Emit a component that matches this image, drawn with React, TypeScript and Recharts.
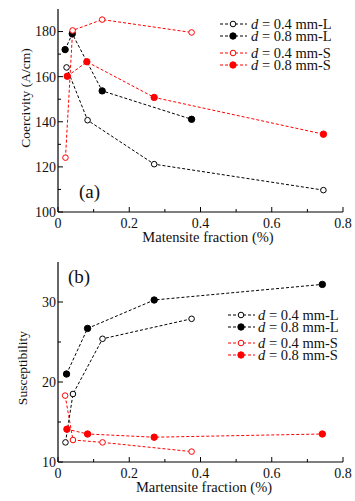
import { LineChart, Line, XAxis, YAxis, Legend } from "recharts";

// martensite fraction (%) for each series
const coerX04L = [0.024, 0.083, 0.27, 0.745];
const coerX08L = [0.02, 0.04, 0.124, 0.375];
const coerX04S = [0.021, 0.041, 0.124, 0.375];
const coerX08S = [0.026, 0.081, 0.27, 0.745];

const coer04L = [164.1, 140.7, 121.2, 109.7];
const coer08L = [172, 179, 153.7, 141.1];
const coer04S = [124.1, 180.5, 185.3, 179.6];
const coer08S = [160.2, 166.6, 150.8, 134.5];

const susX04L = [0.021, 0.042, 0.125, 0.375];
const susX08L = [0.024, 0.083, 0.27, 0.742];
const susX04S = [0.02, 0.042, 0.125, 0.375];
const susX08S = [0.025, 0.083, 0.27, 0.742];

const sus04L = [12.45, 18.5, 25.4, 27.9];
const sus08L = [21, 26.7, 30.25, 32.2];
const sus04S = [18.3, 12.75, 12.45, 11.3];
const sus08S = [14.1, 13.5, 13.1, 13.5];

const seriesNames = ["0.4 mm-L", "0.8 mm-L", "0.4 mm-S", "0.8 mm-S"];

const xTicks = [0, 0.1, 0.2, 0.3, 0.4, 0.5, 0.6, 0.7, 0.8];
const xLabels = [0, 0.2, 0.4, 0.6, 0.8];
const coerTicks = [100, 110, 120, 130, 140, 150, 160, 170, 180];
const coerLabels = [100, 120, 140, 160, 180];
const susTicks = [10, 15, 20, 25, 30];
const susLabels = [10, 20, 30];

const FONT = "Liberation Serif, Times New Roman, serif";
const BLACK = "#000";
const RED = "#ff0000";
const STYLES = [
  { color: BLACK, filled: false },
  { color: BLACK, filled: true },
  { color: RED, filled: false },
  { color: RED, filled: true },
];

const toPoints = (xs: number[], ys: number[]) => xs.map((x, i) => ({ x, y: ys[i] }));

const isLabel = (v: number, labels: number[]) => labels.some((l) => Math.abs(l - v) < 1e-9);

const bottomTick = (labels: number[]) => (props: any) => {
  const { x, y, payload } = props;
  const major = isLabel(payload.value, labels);
  return (
    <g>
      <line x1={x} x2={x} y1={y} y2={y - (major ? 5 : 3)} stroke={BLACK} />
      {major && (
        <text x={x} y={y + 16} textAnchor="middle" fontSize={14} fontFamily={FONT} fill="#111">
          {String(payload.value)}
        </text>
      )}
    </g>
  );
};

const topTick = (labels: number[]) => (props: any) => {
  const { x, y, payload } = props;
  const major = isLabel(payload.value, labels);
  return <line x1={x} x2={x} y1={y} y2={y + (major ? 5 : 3)} stroke={BLACK} />;
};

const leftTick = (labels: number[]) => (props: any) => {
  const { x, y, payload } = props;
  const major = isLabel(payload.value, labels);
  return (
    <g>
      <line x1={x} x2={x + (major ? 5 : 3)} y1={y} y2={y} stroke={BLACK} />
      {major && (
        <text x={x - 2} y={y} dy="0.35em" textAnchor="end" fontSize={14} fontFamily={FONT} fill="#111">
          {String(payload.value)}
        </text>
      )}
    </g>
  );
};

const rightTick = (labels: number[]) => (props: any) => {
  const { x, y, payload } = props;
  const major = isLabel(payload.value, labels);
  return <line x1={x} x2={x - (major ? 5 : 3)} y1={y} y2={y} stroke={BLACK} />;
};

const LegendMarker = ({ color, filled }: { color: string; filled: boolean }) => (
  <svg width={30} height={12} style={{ display: "block", flex: "none" }}>
    <line x1={2} x2={29} y1={6} y2={6} stroke={color} strokeDasharray="3 2" />
    <circle cx={15} cy={6} r={filled ? 3.2 : 2.8} fill={filled ? color : "#fff"} stroke={color} strokeWidth={1} />
  </svg>
);

const makeLegend = (rowY: number[], gap: number) => () => (
  <div style={{ position: "relative", width: 140, height: 60, fontFamily: FONT, fontSize: 14.5, color: "#111" }}>
    {seriesNames.map((name, i) => (
      <div
        key={name}
        style={{ position: "absolute", left: 0, top: rowY[i], height: 12, lineHeight: "12px", display: "flex", alignItems: "center", whiteSpace: "nowrap" }}
      >
        <LegendMarker color={STYLES[i].color} filled={STYLES[i].filled} />
        <span style={{ marginLeft: gap, display: "inline-block", height: 12, lineHeight: "12px", overflow: "visible" }}>
          <i>d</i> = {name}
        </span>
      </div>
    ))}
  </div>
);

interface PanelProps {
  series: { x: number[]; y: number[] }[];
  yDomain: [number, number];
  yTicks: number[];
  yLabels: number[];
  top: number;
  legendTop: number;
  legendLeft: number;
  legendRows: number[];
  legendGap: number;
}

function Panel({ series, yDomain, yTicks, yLabels, top, legendTop, legendLeft, legendRows, legendGap }: PanelProps) {
  return (
    <LineChart width={355} height={250} margin={{ top, right: 12, bottom: 0, left: 0 }}>
      <XAxis
        dataKey="x"
        type="number"
        domain={[0, 0.8]}
        ticks={xTicks}
        interval={0}
        allowDataOverflow
        height={38}
        tickSize={0}
        tickMargin={0}
        tickLine={false}
        axisLine={{ stroke: BLACK, strokeWidth: 1.2 }}
        tick={bottomTick(xLabels)}
      />
      <XAxis
        xAxisId="t"
        orientation="top"
        type="number"
        domain={[0, 0.8]}
        ticks={xTicks}
        interval={0}
        allowDataOverflow
        height={0}
        tickSize={0}
        tickMargin={0}
        tickLine={false}
        axisLine={{ stroke: BLACK, strokeWidth: 1.2 }}
        tick={topTick(xLabels)}
      />
      <YAxis
        type="number"
        domain={yDomain}
        ticks={yTicks}
        interval={0}
        allowDataOverflow
        width={58}
        tickSize={0}
        tickMargin={0}
        tickLine={false}
        axisLine={{ stroke: BLACK, strokeWidth: 1.2 }}
        tick={leftTick(yLabels)}
      />
      <YAxis
        yAxisId="r"
        orientation="right"
        type="number"
        domain={yDomain}
        ticks={yTicks}
        interval={0}
        allowDataOverflow
        width={0}
        tickSize={0}
        tickMargin={0}
        tickLine={false}
        axisLine={{ stroke: BLACK, strokeWidth: 1.2 }}
        tick={rightTick(yLabels)}
      />
      <Legend
        layout="vertical"
        align="center"
        verticalAlign="middle"
        wrapperStyle={{ top: legendTop, left: legendLeft, width: 140, height: 60 }}
        content={makeLegend(legendRows, legendGap)}
      />
      {series.map((s, i) => (
        <Line
          key={seriesNames[i]}
          name={seriesNames[i]}
          data={toPoints(s.x, s.y)}
          dataKey="y"
          type="linear"
          stroke={STYLES[i].color}
          strokeWidth={1}
          strokeDasharray="3 2"
          dot={{
            r: STYLES[i].filled ? 3.2 : 2.8,
            fill: STYLES[i].filled ? STYLES[i].color : "#fff",
            stroke: STYLES[i].color,
            strokeWidth: 1,
            strokeDasharray: "",
          }}
          activeDot={false}
          isAnimationActive={false}
        />
      ))}
    </LineChart>
  );
}

const abs = (style: React.CSSProperties): React.CSSProperties => ({
  position: "absolute",
  fontFamily: FONT,
  color: "#111",
  whiteSpace: "nowrap",
  lineHeight: 1,
  ...style,
});

export default function App() {
  return (
    <div style={{ position: "absolute", left: 0, top: 0, width: 355, height: 501, background: "#fff" }}>
      <div style={{ position: "absolute", left: 0, top: 0 }}>
        <Panel
          series={[
            { x: coerX04L, y: coer04L },
            { x: coerX08L, y: coer08L },
            { x: coerX04S, y: coer04S },
            { x: coerX08S, y: coer08S },
          ]}
          yDomain={[100, 190]}
          yTicks={coerTicks}
          yLabels={coerLabels}
          top={9}
          legendTop={18}
          legendLeft={218}
          legendRows={[0, 12, 29, 41]}
          legendGap={3}
        />
      </div>
      <div style={{ position: "absolute", left: 0, top: 250 }}>
        <Panel
          series={[
            { x: susX04L, y: sus04L },
            { x: susX08L, y: sus08L },
            { x: susX04S, y: sus04S },
            { x: susX08S, y: sus08S },
          ]}
          yDomain={[10, 35]}
          yTicks={susTicks}
          yLabels={susLabels}
          top={12}
          legendTop={59}
          legendLeft={226}
          legendRows={[0, 11.7, 27.7, 40]}
          legendGap={2}
        />
      </div>
      <div style={abs({ left: 89.5, top: 190.7, fontSize: 19, transform: "translate(-50%, -50%)" })}>(a)</div>
      <div style={abs({ left: 79, top: 276, fontSize: 19, transform: "translate(-50%, -50%)" })}>(b)</div>
      <div style={abs({ left: 208, top: 236.5, fontSize: 14.5, transform: "translate(-50%, -50%)" })}>
        Matensite fraction (%)
      </div>
      <div style={abs({ left: 204, top: 486.5, fontSize: 14.5, transform: "translate(-50%, -50%)" })}>
        Martensite fraction (%)
      </div>
      <div style={abs({ left: 26, top: 98, fontSize: 13.5, transform: "translate(-50%, -50%) rotate(-90deg)" })}>
        Coercivity (A/cm)
      </div>
      <div style={abs({ left: 23, top: 368, fontSize: 13.5, transform: "translate(-50%, -50%) rotate(-90deg)" })}>
        Susceptibility
      </div>
    </div>
  );
}
